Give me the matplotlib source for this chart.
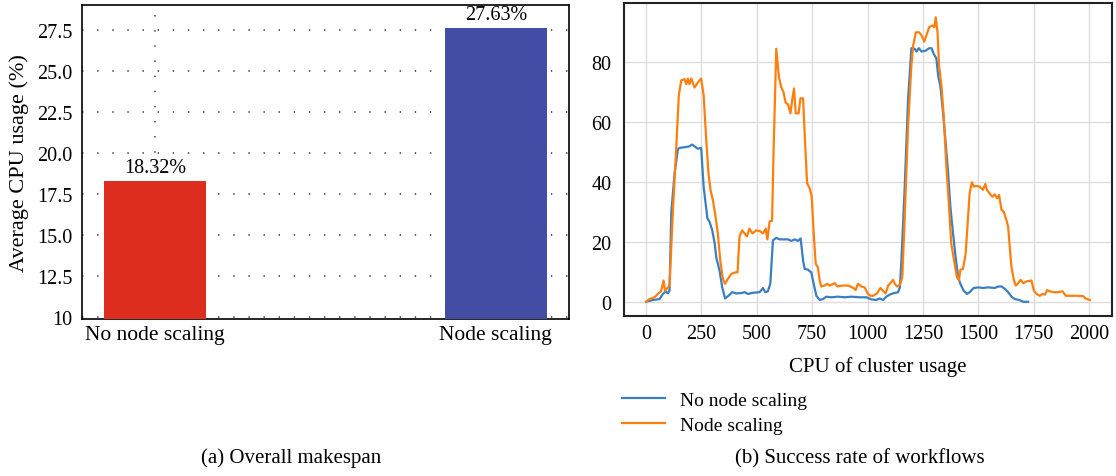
import matplotlib.pyplot as plt

plt.rcParams['font.family'] = ['Liberation Serif', 'DejaVu Serif']

# (a) average CPU usage
bar_labels = ['No node scaling', 'Node scaling']
bar_values = [18.32, 27.63]
bar_colors = ['#dc2d1e', '#444da5']

# (b) CPU usage over time
no_scaling_x = [0, 31, 61, 76, 88, 99, 106, 114, 129, 144, 151, 174, 196, 208, 219, 234, 249, 260, 269, 277,
                287, 299, 310, 317, 332, 344, 357, 372, 389, 407, 430, 445, 460, 482, 513, 528, 538, 550, 561, 573,
                588, 603, 618, 641, 656, 671, 686, 698, 709, 716, 731, 746, 757, 769, 784, 799, 814, 837, 867, 897,
                927, 964, 995, 1017, 1040, 1055, 1070, 1085, 1100, 1115, 1138, 1146, 1153, 1168, 1183, 1198, 1213,
                1221, 1232, 1244, 1263, 1278, 1289, 1299, 1311, 1319, 1329, 1341, 1353, 1364, 1374, 1386, 1398,
                1409, 1419, 1434, 1449, 1461, 1479, 1499, 1521, 1544, 1575, 1590, 1605, 1620, 1635, 1650, 1665,
                1685, 1703, 1725]
no_scaling_y = [0.2, 0.8, 1.1, 2.8, 3.6, 3.0, 3.9, 30, 43, 51, 51.5, 51.7, 52, 52.6, 52, 51.2, 51.5, 38.6, 33, 28,
                26.8, 24, 19.6, 15, 10.6, 5, 1.3, 2.2, 3.4, 3.0, 3.1, 3.4, 2.8, 3.2, 3.4, 4.8, 3.4, 3.7, 6.2, 20.7,
                21.5, 21, 21, 21, 20.5, 21, 20.5, 21.3, 14, 11.2, 10.9, 10, 6.2, 2.2, 0.8, 1.1, 1.9, 1.7, 1.9, 1.7,
                1.9, 1.7, 1.7, 1.0, 0.8, 1.3, 0.8, 1.9, 2.6, 3.0, 3.4, 5, 14, 38.6, 67.7, 84.7, 84.5,
                83.6, 84.7, 83.6, 83.9, 84.7, 84.7, 82.8, 81.3, 75.5, 72, 63.2, 53, 43, 31.9, 23, 15,
                8.4, 6.2, 3.9, 2.8, 3.4, 4.8, 5, 4.8, 5, 4.8, 5.3, 5.3, 4.5, 3.4, 1.9, 1.1,
                0.8, 0.2, 0.2]

scaling_x = [0, 15, 38, 53, 68, 79, 86, 99, 106, 121, 136, 148, 159, 174, 182, 189, 196, 204, 219, 234, 249, 260,
             272, 282, 291, 302, 314, 324, 335, 347, 357, 369, 385, 404, 413, 422, 434, 445, 455, 467, 480, 498,
             513, 528, 540, 548, 558, 569, 576, 588, 600, 611, 621, 630, 641, 652, 661, 668, 676, 689, 697, 709,
             716, 727, 739, 748, 757, 766, 776, 784, 791, 806, 817, 829, 852, 864, 882, 912, 937, 946, 957, 972,
             987, 1002, 1013, 1025, 1043, 1058, 1070, 1082, 1093, 1103, 1115, 1123, 1133, 1146, 1157, 1168, 1183,
             1198, 1206, 1218, 1233, 1244, 1256, 1266, 1278, 1293, 1302, 1308, 1316, 1323, 1334, 1344, 1356, 1368,
             1378, 1393, 1404, 1413, 1419, 1431, 1443, 1453, 1461, 1471, 1480, 1491, 1506, 1521, 1532, 1539, 1551,
             1564, 1575, 1585, 1594, 1605, 1615, 1627, 1635, 1642, 1650, 1661, 1670, 1678, 1691, 1703, 1718, 1740,
             1751, 1763, 1778, 1790, 1801, 1811, 1823, 1838, 1861, 1880, 1895, 1913, 1943, 1974, 1984, 2004]
scaling_y = [0.2, 1.1, 1.7, 2.8, 3.7, 7.3, 3.9, 5, 5.6, 30, 51, 69, 74, 74.4, 72.7, 74.6, 72.7, 74.6, 71.6, 73.3,
             74.6, 69, 54, 43, 37.5, 34, 28.5, 23, 14, 7.8, 6.2, 7.8, 9.5, 10, 10, 22, 24, 23, 22, 24.6, 23, 24,
             23.8, 23, 24.6, 21, 27, 27.2, 51, 84.5, 75, 71.6, 70, 66.6, 66, 63, 68, 71.3, 63, 63, 68, 68,
             56.5, 39.7, 38, 35.2, 23, 12.9, 11.7, 7.3, 5.3, 5.6, 6.2, 5.6, 6.4, 5.3, 5.6, 5.6, 4.8, 4.1, 6.2, 5.3,
             5, 2.8, 2.2, 2.2, 3, 4.8, 3.9, 3, 5.6, 6.4, 7.5, 6.2, 5.3, 5.9, 8.4, 28.5, 58.7,
             78.9, 85.6, 90, 90, 89, 86.9, 89, 91.7, 92.3, 91.7, 95, 90, 78.9, 72, 62, 45.3, 31.9,
             19.6, 12.9, 8.4, 7.3, 10.9, 11.1, 16.2, 27.4, 36.3, 40, 38.6, 38.8, 38.6, 37.5, 39.5, 37.5, 36.3,
             35.2, 36, 34.7, 35.8, 30.8, 30.2, 27.4, 25.2, 18.5, 11.7, 7.3, 5.6, 6.2, 7.5, 6.4, 7, 7.3,
             3.9, 2.8, 2.2, 2.8, 2.6, 4.1, 3.7, 3.4, 3.4, 3.7, 2.2, 2.2, 2.2, 2.1, 1.3, 0.8]

fig = plt.figure(figsize=(11.16, 4.77), dpi=100)

# left panel: bars
ax1 = fig.add_axes([0.0735, 0.329, 0.4364, 0.658])
pos = range(len(bar_values))
bars = ax1.bar(pos, bar_values, width=0.3, color=bar_colors, zorder=3)
for rect, v in zip(bars, bar_values):
    ax1.text(rect.get_x() + rect.get_width() / 2, v + 0.25, f'{v:.2f}%',
             ha='center', va='bottom', fontsize=14.5)
ax1.set_xticks(list(pos))
ax1.set_xticklabels(bar_labels, fontsize=15.5)
ax1.set_xlim(-0.215, 1.215)
ax1.set_ylim(9.9, 29.0)
ax1.set_yticks([10, 12.5, 15, 17.5, 20, 22.5, 25, 27.5])
ax1.set_yticklabels(['10', '12.5', '15.0', '17.5', '20.0', '22.5', '25.0', '27.5'], fontsize=14.5)
ax1.set_ylabel('Average CPU usage (%)', fontsize=16, labelpad=6)
ax1.tick_params(axis='both', length=0, pad=7)
ax1.tick_params(axis='x', pad=4)
ax1.grid(True, color='#333333', linestyle=(0, (0.9, 9)), linewidth=1.1, zorder=0)
for s in ax1.spines.values():
    s.set_linewidth(1.2)
    s.set_color('black')

# right panel: lines
ax2 = fig.add_axes([0.559, 0.3354, 0.4375, 0.656])
ax2.plot(no_scaling_x, no_scaling_y, color='#3a7fc1', linewidth=1.6, label='No node scaling', zorder=3)
ax2.plot(scaling_x, scaling_y, color='#ff7f0e', linewidth=1.6, label='Node scaling', zorder=3)
ax2.set_xticks([0, 250, 500, 750, 1000, 1250, 1500, 1750, 2000])
ax2.set_yticks([0, 20, 40, 60, 80])
ax2.tick_params(axis='both', length=0, labelsize=14.5)
ax2.tick_params(axis='y', pad=9)
ax2.tick_params(axis='x', pad=6)
ax2.grid(True, color='#dddddd', linewidth=1.0, zorder=0)
ax2.set_xlabel('CPU of cluster usage', fontsize=15)
ax2.xaxis.set_label_coords(0.52, -0.16, transform=ax2.transAxes)
ax2.xaxis.label.set_va('center')
for s in ax2.spines.values():
    s.set_linewidth(1.5)
    s.set_color('#222222')
ax2.legend(loc='upper left', bbox_to_anchor=(-0.02, -0.215), frameon=False, fontsize=14,
           handlelength=2.2, handletextpad=0.8, labelspacing=0.39, borderaxespad=0)

fig.text(0.261, 0.0386, '(a) Overall makespan', ha='center', va='center', fontsize=15)
fig.text(0.770, 0.0386, '(b) Success rate of workflows', ha='center', va='center', fontsize=15)

fig.savefig('out.png', dpi=100)
